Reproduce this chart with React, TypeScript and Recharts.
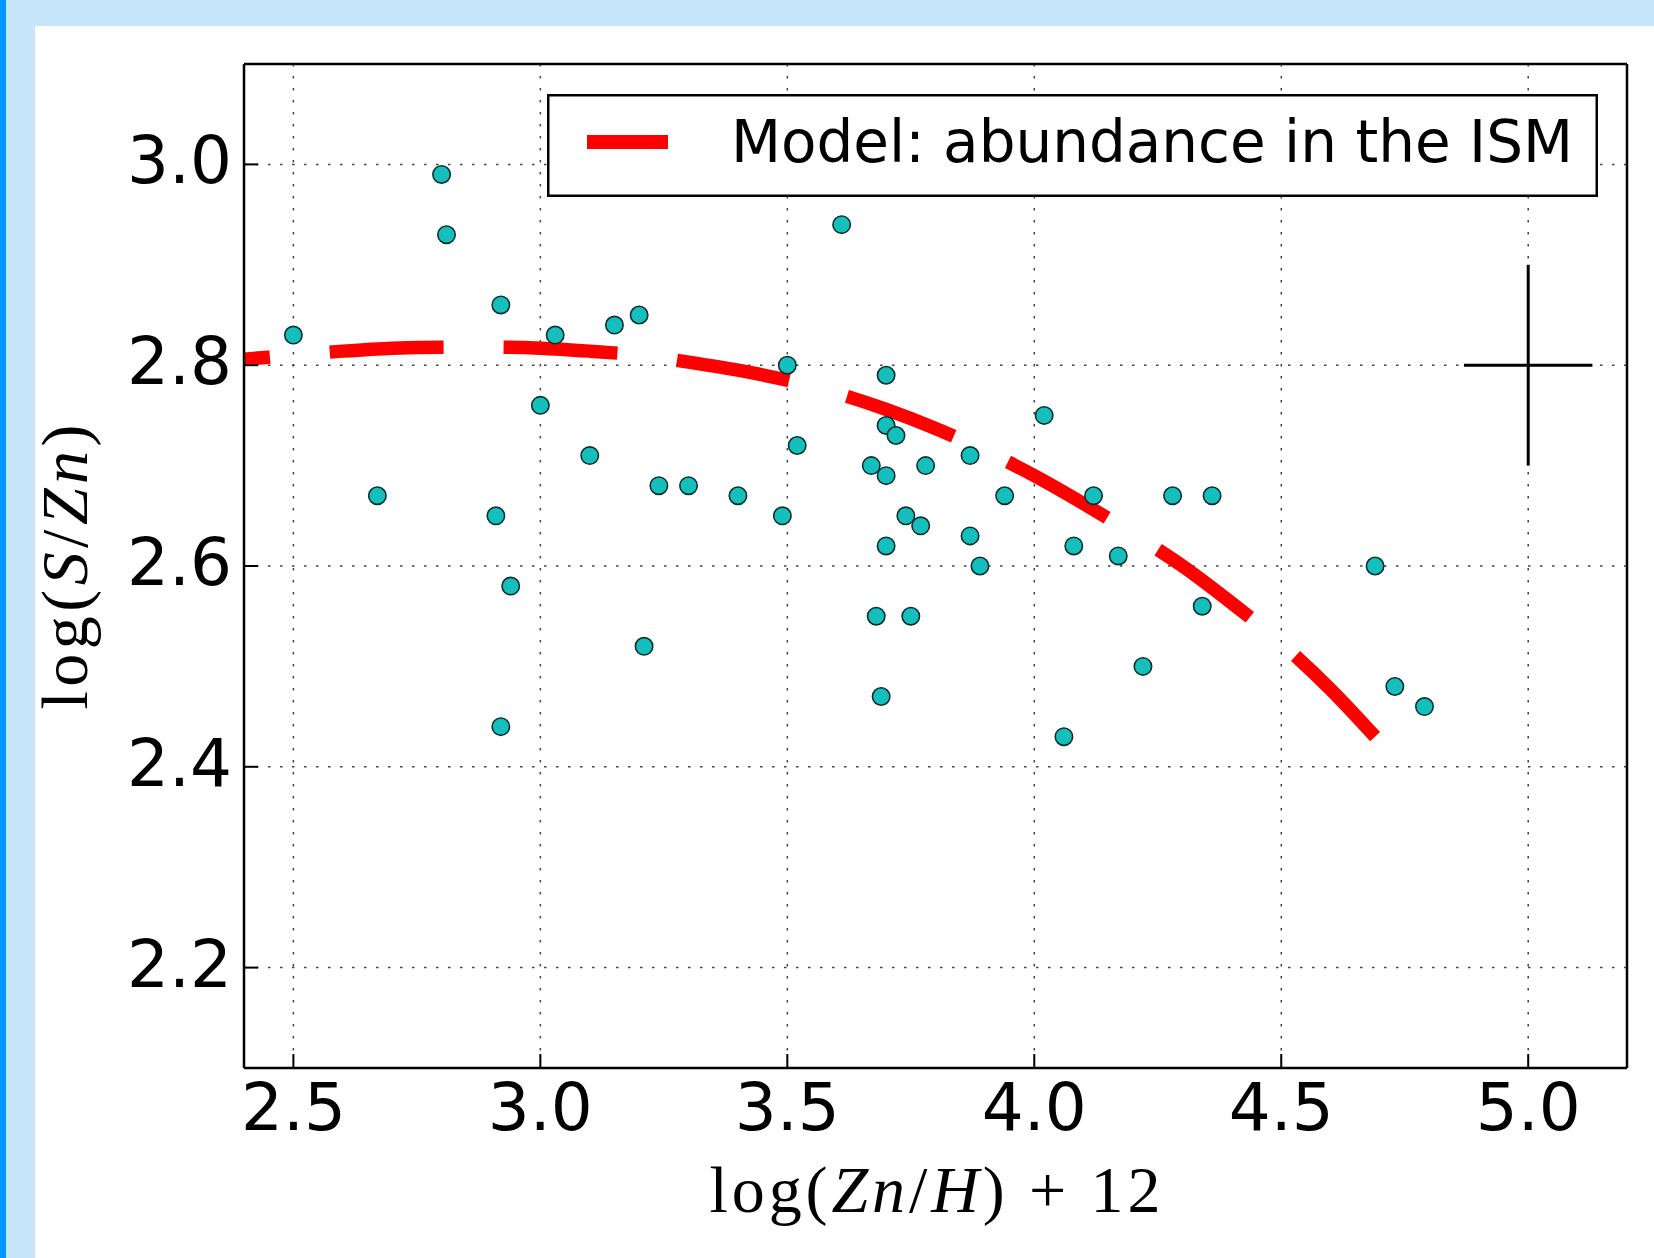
import {
  ComposedChart,
  Scatter,
  Line,
  XAxis,
  YAxis,
  CartesianGrid,
  Legend,
  ErrorBar,
} from 'recharts';

// observed abundances
const obsX = [
  2.5, 2.67, 2.8, 2.81, 2.91, 2.92, 2.92, 2.94, 3.0, 3.03, 3.1, 3.15, 3.2, 3.21, 3.24, 3.3, 3.4,
  3.49, 3.5, 3.52, 3.61, 3.67, 3.68, 3.69, 3.7, 3.7, 3.7, 3.7, 3.72, 3.74, 3.75, 3.77, 3.78, 3.87,
  3.87, 3.89, 3.94, 4.02, 4.06, 4.08, 4.12, 4.17, 4.22, 4.28, 4.34, 4.36, 4.69, 4.73, 4.79,
];
const obsY = [
  2.83, 2.67, 2.99, 2.93, 2.65, 2.86, 2.44, 2.58, 2.76, 2.83, 2.71, 2.84, 2.85, 2.52, 2.68, 2.68, 2.67,
  2.65, 2.8, 2.72, 2.94, 2.7, 2.55, 2.47, 2.79, 2.74, 2.69, 2.62, 2.73, 2.65, 2.55, 2.64, 2.7, 2.71,
  2.63, 2.6, 2.67, 2.75, 2.43, 2.62, 2.67, 2.61, 2.5, 2.67, 2.56, 2.67, 2.6, 2.48, 2.46,
];

// model curve
const modelX = [
  2.4, 2.5, 2.6, 2.7, 2.8, 2.9, 3.0, 3.1, 3.2, 3.3, 3.4, 3.5, 3.6, 3.7, 3.8, 3.9, 4.0, 4.1, 4.2, 4.3,
  4.4, 4.5, 4.6, 4.69,
];
const modelY = [
  2.806, 2.81, 2.814, 2.817, 2.818, 2.818, 2.817, 2.814, 2.81, 2.803, 2.795, 2.785, 2.772, 2.756,
  2.737, 2.715, 2.69, 2.662, 2.632, 2.6, 2.563, 2.523, 2.477, 2.43,
];

// typical error
const errX = [5.0];
const errY = [2.8];
const errDx = [0.13];
const errDy = [0.1];

const xTicks = [2.5, 3.0, 3.5, 4.0, 4.5, 5.0];
const yTicks = [2.2, 2.4, 2.6, 2.8, 3.0];

const modelName = 'Model: abundance in the ISM';

const obsData = obsX.map((x, i) => ({ x, y: obsY[i] }));
const modelData = modelX.map((x, i) => ({ x, y: modelY[i] }));
const errData = errX.map((x, i) => ({ x, y: errY[i], dx: errDx[i], dy: errDy[i] }));

const tickFont = "'DejaVu Sans', sans-serif";
const mathFont = "'Liberation Serif', serif";

const BottomTick = ({ x, y, payload }: any) => (
  <text x={x} y={y} textAnchor="middle" fontFamily={tickFont} fontSize={66} fill="#000">
    {Number(payload.value).toFixed(1)}
  </text>
);

const LeftTick = ({ x, y, payload }: any) => (
  <text x={x} y={y + 19} textAnchor="end" fontFamily={tickFont} fontSize={66} fill="#000">
    {Number(payload.value).toFixed(1)}
  </text>
);

const XTitle = () => (
  <text
    x={935}
    y={1212}
    textAnchor="middle"
    fontFamily={mathFont}
    fontSize={66}
    textLength={451}
    lengthAdjust="spacing"
    fill="#000"
  >
    log(<tspan fontStyle="italic">Zn</tspan>/<tspan fontStyle="italic">H</tspan>) + 12
  </text>
);

const YTitle = () => (
  <text
    x={87}
    y={567}
    transform="rotate(-90 87 567)"
    textAnchor="middle"
    fontFamily={mathFont}
    fontSize={66}
    textLength={285}
    lengthAdjust="spacing"
    fill="#000"
  >
    log(<tspan fontStyle="italic">S</tspan>/<tspan fontStyle="italic">Zn</tspan>)
  </text>
);

const ObsDot = (p: any) => (
  <circle cx={p.cx} cy={p.cy} r={8.7} fill="#14bfbc" stroke="#0d2f2f" strokeWidth={1.6} />
);

const NoDot = () => <g />;

const LegendBox = ({ payload }: any) => {
  const item = payload && payload.length ? payload[0] : null;
  return (
    <svg width={1051} height={103} style={{ display: 'block' }}>
      <rect x={1.25} y={1.25} width={1048.5} height={100.5} fill="#fff" stroke="#000" strokeWidth={2.5} />
      <line x1={40} x2={121} y1={48} y2={48} stroke={item ? item.color : '#ff0000'} strokeWidth={14} />
      <text x={184} y={68} fontFamily={tickFont} fontSize={58} fill="#000">
        {item ? item.value : modelName}
      </text>
    </svg>
  );
};

const axisLine = { stroke: '#000', strokeWidth: 2.5 };
const tickLine = { stroke: '#000', strokeWidth: 2 };

export default function App() {
  return (
    <div
      style={{
        position: 'absolute',
        left: 0,
        top: 0,
        width: 1654,
        height: 1258,
        background: '#fff',
        overflow: 'hidden',
      }}
    >
      <div style={{ position: 'absolute', left: 0, top: 0, width: 6, height: 1258, background: '#0099ff' }} />
      <div style={{ position: 'absolute', left: 6, top: 0, width: 29, height: 1258, background: '#c8e6fb' }} />
      <div style={{ position: 'absolute', left: 6, top: 0, width: 1648, height: 26, background: '#c8e6fb' }} />
      <div style={{ position: 'absolute', left: 0, top: 0 }}>
        <ComposedChart width={1654} height={1258} margin={{ top: 63, right: 26, left: 0, bottom: 0 }}>
          <CartesianGrid stroke="#444" strokeWidth={1.5} strokeDasharray="2.5 9.5" />
          <XAxis
            dataKey="x"
            type="number"
            domain={[2.4, 5.2]}
            allowDataOverflow
            ticks={xTicks}
            height={190}
            axisLine={axisLine}
            tickLine={tickLine}
            tickSize={-14}
            tickMargin={76}
            tick={<BottomTick />}
            label={<XTitle />}
          />
          <XAxis
            xAxisId="top"
            orientation="top"
            dataKey="x"
            type="number"
            domain={[2.4, 5.2]}
            allowDataOverflow
            ticks={xTicks}
            height={1}
            axisLine={axisLine}
            tickLine={tickLine}
            tickSize={-14}
            tick={false}
          />
          <YAxis
            dataKey="y"
            type="number"
            domain={[2.1, 3.1]}
            allowDataOverflow
            ticks={yTicks}
            width={244}
            axisLine={axisLine}
            tickLine={tickLine}
            tickSize={-14}
            tickMargin={26}
            tick={<LeftTick />}
            label={<YTitle />}
          />
          <YAxis
            yAxisId="right"
            orientation="right"
            dataKey="y"
            type="number"
            domain={[2.1, 3.1]}
            allowDataOverflow
            ticks={yTicks}
            width={1}
            axisLine={axisLine}
            tickLine={tickLine}
            tickSize={-14}
            tick={false}
          />
          <Legend
            layout="horizontal"
            verticalAlign="middle"
            align="center"
            content={<LegendBox />}
            wrapperStyle={{ left: 547, top: 94, width: 1051, height: 103 }}
          />
          <Scatter
            name="observed"
            data={obsData}
            dataKey="y"
            shape={<ObsDot />}
            legendType="none"
            isAnimationActive={false}
          />
          <Scatter
            name="error"
            xAxisId="top"
            yAxisId="right"
            data={errData}
            dataKey="y"
            shape={<NoDot />}
            legendType="none"
            isAnimationActive={false}
          >
            <ErrorBar dataKey="dx" direction="x" width={0} stroke="#000" strokeWidth={3} isAnimationActive={false} />
            <ErrorBar dataKey="dy" direction="y" width={0} stroke="#000" strokeWidth={3} isAnimationActive={false} />
          </Scatter>
          <Line
            name={modelName}
            data={modelData}
            dataKey="y"
            type="monotone"
            stroke="#ff0000"
            strokeWidth={13.5}
            strokeDasharray="114 60"
            strokeDashoffset={88}
            dot={false}
            activeDot={false}
            isAnimationActive={false}
          />
        </ComposedChart>
      </div>
    </div>
  );
}
